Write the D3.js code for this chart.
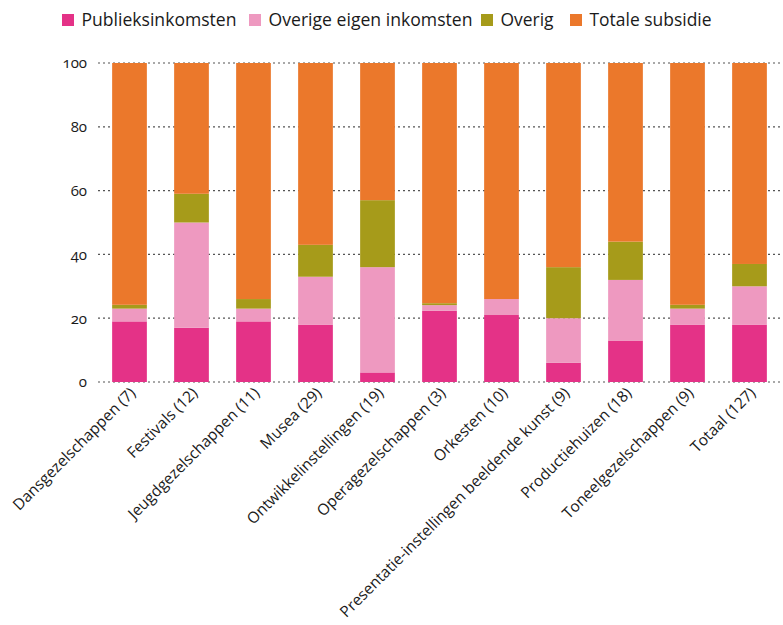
<!DOCTYPE html>
<html lang="nl">
	<head>
		<meta charset="utf-8">
		<title>Inkomsten per sector</title>
		<script src="https://d3js.org/d3.v7.min.js"></script>
		<style>
			body {
				margin: 0;
				background: #ffffff;
			}
			text {
				font-family: "Open Sans", sans-serif;
				fill: #1a1a1a;
			}
			.legend text {
				font-size: 19px;
			}
			.y-axis text {
				font-size: 15px;
				font-variant-numeric: oldstyle-nums;
			}
			.x-label {
				font-size: 15.5px;
			}
			.grid line {
				stroke: #555555;
				stroke-width: 1.2;
				stroke-dasharray: 2,3;
			}
		</style>
	</head>
	<body>
		<div id="chart"></div>
		<script type="text/javascript">
			// categories and values (percentages of total income)
			var categories = ["Dansgezelschappen (7)","Festivals (12)","Jeugdgezelschappen (11)","Musea (29)","Ontwikkelinstellingen (19)","Operagezelschappen (3)","Orkesten (10)","Presentatie-instellingen beeldende kunst (9)","Productiehuizen (18)","Toneelgezelschappen (9)","Totaal (127)"];
			var seriesNames = ["Publieksinkomsten","Overige eigen inkomsten","Overig","Totale subsidie"];
			var publieksinkomsten = [19, 17, 19, 18, 3, 22.3, 21, 6, 13, 18, 18];
			var overigeEigen = [4, 33, 4, 15, 33, 1.8, 5, 14, 19, 5, 12];
			var overig = [1.2, 9, 3, 10, 21, 0.6, 0, 16, 12, 1.2, 7];
			var totaleSubsidie = [75.8, 41, 74, 57, 43, 75.3, 74, 64, 56, 75.8, 63];
			var yTicks = [0, 20, 40, 60, 80, 100];
			var colors = ["#e43287", "#ee99c0", "#a69b1a", "#eb782b"];

			var w = 783;
			var h = 625;

			var svg = d3.select("#chart").append("svg").attr("width", w).attr("height", h);

			var rows = categories.map(function(c, i) {
				return {
					cat: c,
					"Publieksinkomsten": publieksinkomsten[i],
					"Overige eigen inkomsten": overigeEigen[i],
					"Overig": overig[i],
					"Totale subsidie": totaleSubsidie[i]
				};
			});
			var stacked = d3.stack().keys(seriesNames)(rows);

			var xScale = d3.scaleBand().domain(categories).range([98.5, 780.5]).paddingInner(0.44).paddingOuter(0.22);
			var yScale = d3.scaleLinear().domain([0, 100]).range([382, 63]);
			var color = d3.scaleOrdinal().domain(seriesNames).range(colors);

			// dotted gridlines
			svg.append("g").attr("class", "grid").selectAll("line").data(yTicks).enter().append("line")
				.attr("x1", 98).attr("x2", w)
				.attr("y1", function(d) { return yScale(d); })
				.attr("y2", function(d) { return yScale(d); });

			// y axis labels
			var yAxis = d3.axisLeft(yScale).tickValues(yTicks).tickSize(0).tickPadding(0);
			svg.append("g").attr("class", "y-axis").attr("transform", "translate(87,0)").call(yAxis)
				.call(function(g) { g.select(".domain").remove(); });

			// bars
			svg.append("g").selectAll("g").data(stacked).enter().append("g")
				.attr("fill", function(d) { return color(d.key); })
				.selectAll("rect").data(function(d) { return d; }).enter().append("rect")
				.attr("x", function(d) { return xScale(d.data.cat); })
				.attr("y", function(d) { return yScale(d[1]); })
				.attr("width", xScale.bandwidth())
				.attr("height", function(d) { return yScale(d[0]) - yScale(d[1]); });

			// rotated category labels
			svg.append("g").selectAll("text").data(categories).enter().append("text")
				.attr("class", "x-label")
				.attr("text-anchor", "end")
				.attr("transform", function(d) {
					return "translate(" + (xScale(d) + xScale.bandwidth() / 2 + 7) + ",394) rotate(-45)";
				})
				.text(function(d) { return d; });

			// legend
			var legendX = [62, 249, 481, 570];
			var legendW = [155, 204, 53, 122];
			var legend = svg.append("g").attr("class", "legend").selectAll("g").data(seriesNames).enter().append("g")
				.attr("transform", function(d, i) { return "translate(" + legendX[i] + ",0)"; });
			legend.append("rect").attr("x", 0).attr("y", 14).attr("width", 12).attr("height", 12)
				.attr("fill", function(d) { return color(d); });
			legend.append("text").attr("x", 19.5).attr("y", 26)
				.attr("textLength", function(d, i) { return legendW[i]; })
				.attr("lengthAdjust", "spacingAndGlyphs")
				.text(function(d) { return d; });
		</script>
	</body>
</html>
